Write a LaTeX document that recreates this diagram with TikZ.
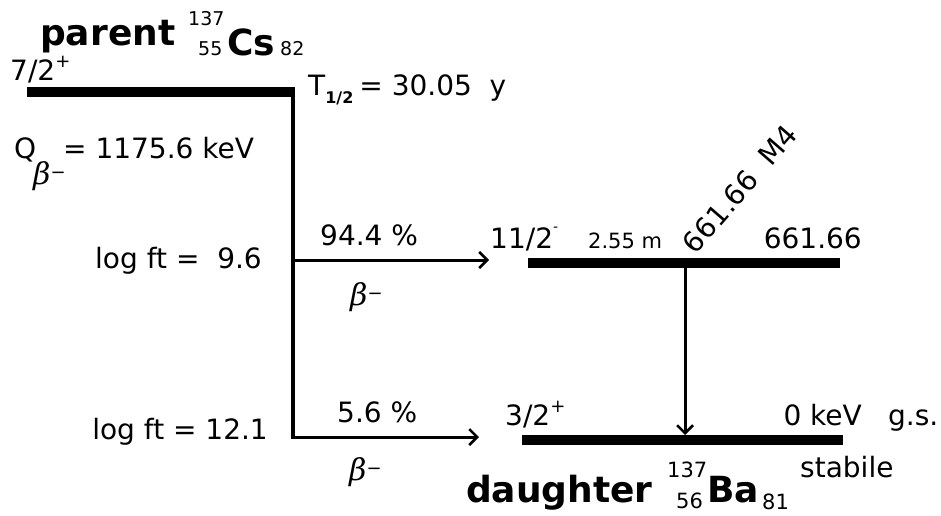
\documentclass[tikz,border=0pt]{standalone}
\usepackage{fontspec}
\setmainfont{DejaVu Sans}
\newfontfamily\betafont{DejaVu Serif}
\usetikzlibrary{arrows.meta}
\newcommand{\fs}[1]{\fontsize{#1}{#1}\selectfont}
\newcommand{\bminus}{{\betafont\itshape\fs{30}β}\raisebox{0.55em}{\fs{18}−}}
\begin{document}
\begin{tikzpicture}[x=1pt,y=-1pt,
  level/.style={line width=10pt, line cap=butt},
  feed/.style={line width=4pt},
  trans/.style={line width=3pt, -{Straight Barb[length=8pt,width=16pt,line width=2.5pt]}},
  txt/.style={inner sep=0pt, font=\fs{28}},
  small/.style={inner sep=0pt, font=\fs{19}},
  dsmall/.style={inner sep=0pt, font=\fs{21}},
  big/.style={inner sep=0pt, font=\fs{36}\bfseries},
  beta/.style={inner sep=0pt},
]
\useasboundingbox (0,0) rectangle (941,515);
% coordinates
\coordinate (pl) at (27,92);
\coordinate (pr) at (295,92);
\coordinate (vtop) at (293,92);
\coordinate (vbot) at (293,438.5);
\coordinate (b1) at (293,260);
\coordinate (b2) at (293,437);
\coordinate (t1) at (489,260);
\coordinate (t2) at (479,437);
\coordinate (l1a) at (528,263);
\coordinate (l1b) at (840,263);
\coordinate (l2a) at (522,440);
\coordinate (l2b) at (843,440);
\coordinate (g1) at (685,268);
\coordinate (g2) at (685,435);
% levels
\draw[level] (pl) -- (pr);
\draw[level] (l1a) -- (l1b);
\draw[level] (l2a) -- (l2b);
\draw[feed] (vtop) -- (vbot);
\draw[trans] (b1) -- (t1);
\draw[trans] (b2) -- (t2);
\draw[trans] (g1) -- (g2);
% parent label
\node[big, anchor=base west] (par) at (40,45) {parent};
\node[small, anchor=base west] (pA) at (188,25) {137};
\node[small, anchor=base west] (pZ) at (198,55) {55};
\node[big, anchor=base west] (pEl) at (227,55) {Cs};
\node[small, anchor=base west] (pN) at (280,55) {82};
\node[txt, anchor=base west] (spin0) at (10,80) {7/2\raisebox{0.45em}{\fs{18}+}};
\node[txt, anchor=base west] (half) at (308,95) {T\raisebox{-0.3em}{\fs{16}\bfseries 1/2}\hspace{6pt}= 30.05~~y};
\node[txt, anchor=base west] (Q) at (14,158) {Q};
\node[beta, anchor=base west] (Qb) at (33,184) {\bminus};
\node[txt, anchor=base west] (Qv) at (63,158) {= 1175.6 keV};
% branches
\node[txt, anchor=base east] (lf1) at (262,268) {log ft =~~9.6};
\node[txt, anchor=base east] (lf2) at (268,439) {log ft = 12.1};
\node[txt, anchor=base west] (br1) at (320,245) {94.4 \%};
\node[txt, anchor=base west] (br2) at (337,422) {5.6 \%};
\node[beta, anchor=base west] (bb1) at (350,305) {\bminus};
\node[beta, anchor=base west] (bb2) at (349,480) {\bminus};
% excited level
\node[txt, anchor=base west] (spin1) at (490,248) {11/2\raisebox{0.6em}{\fs{14}-}};
\node[small, anchor=base west, font=\fs{21}] (hl1) at (588,248) {2.55 m};
\node[txt, anchor=base east] (e1) at (862,248) {661.66};
\node[txt, rotate=49] (gl) at (740,189) {661.66~~M4};
% ground level
\node[txt, anchor=base west] (spin2) at (505,425) {3/2\raisebox{0.45em}{\fs{18}+}};
\node[txt, anchor=base east] (e2) at (862,425) {0 keV};
\node[txt, anchor=base west] (gs) at (888,425) {g.s.};
\node[txt, anchor=base west] (st) at (800,477) {stabile};
% daughter label
\node[big, anchor=base west] (dau) at (466,502) {daughter};
\node[dsmall, anchor=base west] (dA) at (667,477) {137};
\node[dsmall, anchor=base west] (dZ) at (676,508) {56};
\node[big, anchor=base west] (dEl) at (707,502) {Ba};
\node[dsmall, anchor=base west] (dN) at (762,509) {81};
\end{tikzpicture}
\end{document}
